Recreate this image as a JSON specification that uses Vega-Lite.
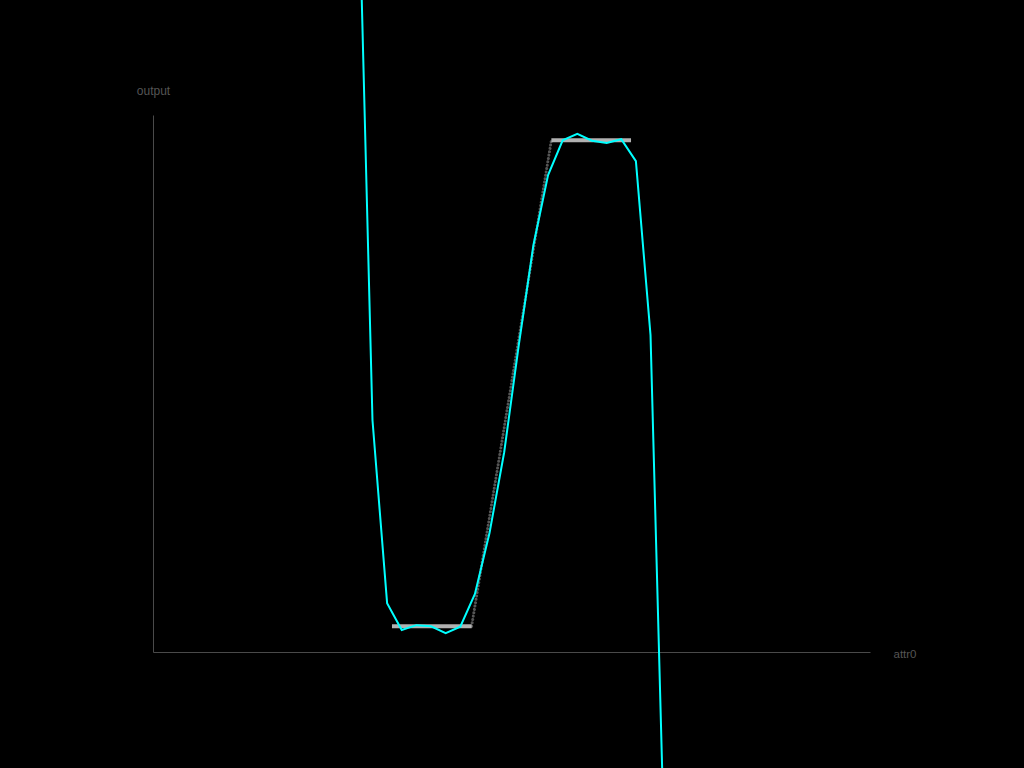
{
  "$schema": "https://vega.github.io/schema/vega-lite/v6.json",
  "autosize": {"type": "none"},
  "width": 717,
  "height": 537,
  "padding": {"left": 153, "top": 115, "right": 154, "bottom": 116},
  "background": "#000000",
  "config": {"view": {"stroke": null}, "font": "Liberation Sans"},
  "datasets": {
    "target": [
      {"x": 0.3333, "y": 0.048, "seg": "low"},
      {"x": 0.4444, "y": 0.048, "seg": "low"},
      {"x": 0.5556, "y": 0.953, "seg": "high"},
      {"x": 0.6667, "y": 0.953, "seg": "high"}
    ],
    "ramp": [
      {"x": 0.4444, "y": 0.048},
      {"x": 0.5556, "y": 0.953}
    ],
    "fit": [
      {"x": 0.2857, "y": 1.5},
      {"x": 0.3061, "y": 0.432},
      {"x": 0.3265, "y": 0.091},
      {"x": 0.3469, "y": 0.041},
      {"x": 0.3673, "y": 0.05},
      {"x": 0.3878, "y": 0.048},
      {"x": 0.4082, "y": 0.035},
      {"x": 0.4286, "y": 0.047},
      {"x": 0.449, "y": 0.108},
      {"x": 0.4694, "y": 0.222},
      {"x": 0.4898, "y": 0.372},
      {"x": 0.5102, "y": 0.572},
      {"x": 0.5306, "y": 0.758},
      {"x": 0.551, "y": 0.888},
      {"x": 0.5714, "y": 0.953},
      {"x": 0.5918, "y": 0.965},
      {"x": 0.6122, "y": 0.952},
      {"x": 0.6327, "y": 0.948},
      {"x": 0.6531, "y": 0.955},
      {"x": 0.6735, "y": 0.914},
      {"x": 0.6939, "y": 0.59},
      {"x": 0.7143, "y": -0.425}
    ]
  },
  "encoding": {
    "x": {
      "field": "x", "type": "quantitative",
      "scale": {"domain": [0, 1], "nice": false, "zero": false},
      "axis": {
        "title": "attr0", "ticks": false, "labels": false, "grid": false,
        "domainColor": "#4a4a4a", "domainWidth": 1,
        "titleColor": "#555555", "titleFontSize": 11.5, "titleFontWeight": "normal",
        "titleAlign": "left", "titleBaseline": "middle", "titleX": 740, "titleY": 2,
        "titleAnchor": null
      }
    },
    "y": {
      "field": "y", "type": "quantitative",
      "scale": {"domain": [0, 1], "nice": false, "zero": false},
      "axis": {
        "title": "output", "ticks": false, "labels": false, "grid": false,
        "domainColor": "#4a4a4a", "domainWidth": 1,
        "titleColor": "#555555", "titleFontSize": 12, "titleFontWeight": "normal",
        "titleAngle": 0, "titleAlign": "center", "titleBaseline": "middle",
        "titleX": 0, "titleY": -25, "titleAnchor": null
      }
    }
  },
  "layer": [
    {
      "data": {"name": "ramp"},
      "mark": {"type": "line", "color": "#555555", "strokeWidth": 3, "strokeDash": [0.01, 3.4], "strokeCap": "round", "clip": false}
    },
    {
      "data": {"name": "target"},
      "mark": {"type": "line", "color": "#c4c4c4", "strokeWidth": 4, "opacity": 0.9, "clip": false},
      "encoding": {"detail": {"field": "seg"}}
    },
    {
      "data": {"name": "fit"},
      "mark": {"type": "line", "color": "#00ffff", "strokeWidth": 2, "clip": false}
    }
  ]
}
